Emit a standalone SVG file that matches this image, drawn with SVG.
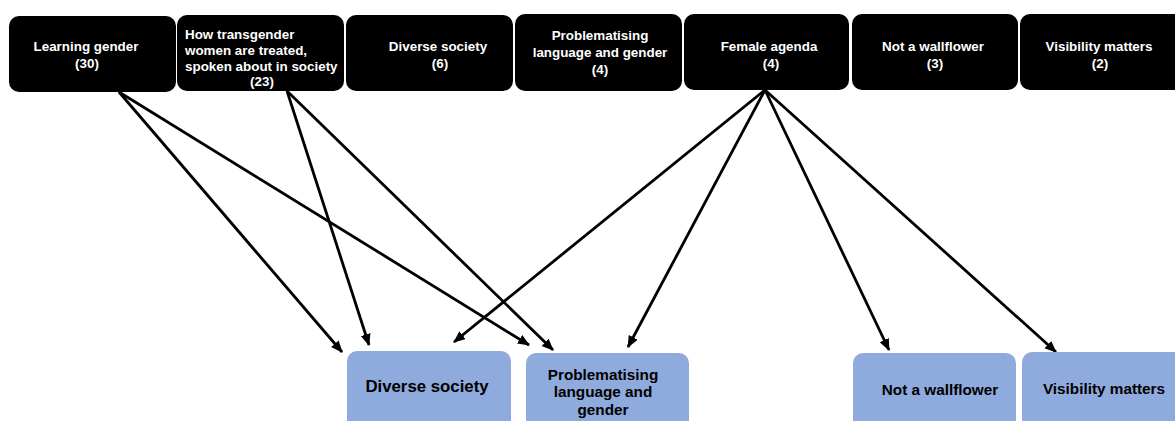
<svg xmlns="http://www.w3.org/2000/svg" width="1175" height="421" viewBox="0 0 1175 421">
<defs>
<style>
.top rect{fill:#000;}
.top text{fill:#fff;font-family:"Liberation Sans",Arial,sans-serif;font-weight:bold;font-size:13.4px;}
.bot rect{fill:#8FAADC;}
.bot text{fill:#000;font-family:"Liberation Sans",Arial,sans-serif;font-weight:bold;font-size:15.3px;}
.c{text-anchor:middle;}
#connectors line{stroke:#000;stroke-width:2.8;marker-end:url(#arr);}
</style>
<marker id="arr" markerUnits="userSpaceOnUse" markerWidth="13" markerHeight="11" refX="11" refY="5" orient="auto">
<path d="M0,0 L12,5 L0,10 z" fill="#000"/>
</marker>
</defs>
<rect width="1175" height="421" fill="#fff"/>

<g id="connectors">
<line x1="119" y1="92" x2="342" y2="352"/>
<line x1="119" y1="92" x2="529" y2="345"/>
<line x1="287" y1="91" x2="369" y2="345"/>
<line x1="287" y1="91" x2="553" y2="350"/>
<line x1="765" y1="90" x2="454" y2="342"/>
<line x1="765" y1="90" x2="628" y2="347"/>
<line x1="765" y1="90" x2="889" y2="350"/>
<line x1="765" y1="90" x2="1056" y2="352"/>
</g>

<g id="t-learning" class="top">
<rect x="9" y="16" width="167" height="76" rx="10"/>
<text class="c" x="86" y="51">Learning gender</text>
<text class="c" x="87" y="68">(30)</text>
</g>
<g id="t-transgender" class="top">
<rect x="177" y="15" width="167" height="76" rx="10"/>
<text x="185" y="39">How transgender</text>
<text x="185" y="55">women are treated,</text>
<text x="185" y="71">spoken about in society</text>
<text class="c" x="262" y="86">(23)</text>
</g>
<g id="t-diverse" class="top">
<rect x="346" y="15" width="167" height="76" rx="10"/>
<text class="c" x="438" y="51">Diverse society</text>
<text class="c" x="440" y="68">(6)</text>
</g>
<g id="t-problem" class="top">
<rect x="515" y="14" width="167" height="77" rx="10"/>
<text class="c" x="600" y="40">Problematising</text>
<text class="c" x="600" y="57">language and gender</text>
<text class="c" x="600" y="74">(4)</text>
</g>
<g id="t-female" class="top">
<rect x="684" y="14" width="165" height="76" rx="10"/>
<text class="c" x="769" y="51">Female agenda</text>
<text class="c" x="771" y="68">(4)</text>
</g>
<g id="t-wallflower" class="top">
<rect x="852" y="14" width="166" height="76" rx="10"/>
<text class="c" x="933" y="51">Not a wallflower</text>
<text class="c" x="935" y="68">(3)</text>
</g>
<g id="t-visibility" class="top">
<rect x="1020" y="14" width="170" height="76" rx="10"/>
<text class="c" x="1099" y="51">Visibility matters</text>
<text class="c" x="1100" y="68">(2)</text>
</g>

<g id="b-diverse" class="bot">
<rect x="347" y="351" width="164" height="85" rx="10"/>
<text class="c" x="427" y="392" style="font-size:16.8px">Diverse society</text>
</g>
<g id="b-problem" class="bot">
<rect x="526" y="353" width="163" height="85" rx="10"/>
<text class="c" x="603" y="380">Problematising</text>
<text class="c" x="603" y="397">language and</text>
<text class="c" x="603" y="415">gender</text>
</g>
<g id="b-wallflower" class="bot">
<rect x="853" y="353" width="163" height="85" rx="10"/>
<text class="c" x="940" y="395">Not a wallflower</text>
</g>
<g id="b-visibility" class="bot">
<rect x="1022" y="352" width="170" height="85" rx="10"/>
<text class="c" x="1104" y="394">Visibility matters</text>
</g>
</svg>
